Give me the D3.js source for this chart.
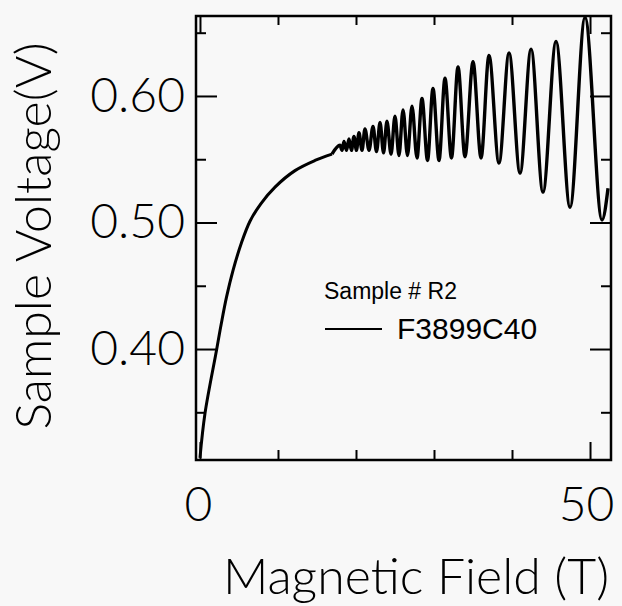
<!DOCTYPE html>
<html>
<head>
<meta charset="utf-8">
<script src="https://cdn.jsdelivr.net/npm/d3@7"></script>
<style>
  body { margin: 0; background: #f8f8f8; }
  svg { display: block; }
  .axis-label, .tick text { font-family: Lato, "Open Sans", sans-serif; font-weight: 300; fill: #000; }
  .legend { font-family: "Liberation Sans", Arial, sans-serif; fill: #000; }
</style>
</head>
<body>
<script>
// magnetic field sweep (T) and sample voltage (V)
// first 13 points: smooth rise; after that alternating peaks / valleys
var fieldT = [
    0.0, 0.64, 2.12, 2.76, 3.40, 4.23, 5.32, 6.41, 7.82, 9.62, 12.18, 14.74, 16.92,
    17.95, 18.21, 18.46, 18.78, 19.10, 19.42, 19.74, 20.06, 20.38, 20.77,
    21.15, 21.67, 22.18, 22.63, 23.08, 23.53, 23.97, 24.49, 25.00, 25.51,
    26.03, 26.60, 27.18, 27.82, 28.46, 29.17, 29.87, 30.64, 31.41, 32.24,
    33.08, 33.97, 35.00, 36.03, 37.05, 38.33, 39.62, 41.03, 42.44, 43.97,
    45.64, 47.44, 49.36, 51.54, 52.31
];
var voltageV = [
    0.314, 0.349, 0.399, 0.421, 0.441, 0.462, 0.484, 0.501, 0.515, 0.528, 0.541, 0.549, 0.554,
    0.561, 0.557, 0.564, 0.557, 0.566, 0.557, 0.568, 0.557, 0.571, 0.557,
    0.574, 0.557, 0.576, 0.556, 0.579, 0.555, 0.580, 0.554, 0.584, 0.553,
    0.589, 0.553, 0.592, 0.551, 0.598, 0.549, 0.606, 0.549, 0.614, 0.551,
    0.623, 0.552, 0.627, 0.551, 0.632, 0.547, 0.634, 0.539, 0.637, 0.524,
    0.643, 0.512, 0.662, 0.502, 0.527
];
var riseCount = 13;

// ticks
var yMajorTicks = [0.40, 0.50, 0.60];
var yMinorTicks = [0.35, 0.45, 0.55, 0.65];
var xMajorTicks = [0, 50];
var xMinorTicks = [10, 20, 30, 40];

var legendTitle = "Sample # R2";
var legendSeries = "F3899C40";

var width = 622,
    height = 606;

// plot frame in pixels
var frame = { left: 196, right: 611, top: 16, bottom: 460 };

var x = d3.scaleLinear().domain([-0.51, 52.69]).range([frame.left, frame.right]);
var y = d3.scaleLinear().domain([0.3123, 0.6632]).range([frame.bottom, frame.top]);

var svg = d3.select("body").append("svg")
    .attr("width", width)
    .attr("height", height);

svg.append("rect")
    .attr("width", width)
    .attr("height", height)
    .attr("fill", "#f8f8f8");

// clip for the curve
svg.append("clipPath").attr("id", "plot")
  .append("rect")
    .attr("x", frame.left).attr("y", frame.top)
    .attr("width", frame.right - frame.left).attr("height", frame.bottom - frame.top);

// tick helper: ticks drawn inward, no domain path
function addAxis(axis, tx, ty) {
    var g = svg.append("g")
        .attr("transform", "translate(" + tx + "," + ty + ")")
        .call(axis);
    g.select(".domain").remove();
    g.selectAll(".tick line").attr("stroke", "#000").attr("stroke-width", 2);
    return g;
}

// left
addAxis(d3.axisLeft(y).tickValues(yMajorTicks).tickSize(-21).tickPadding(11)
    .tickFormat(d3.format(".2f")), frame.left, 0)
    .selectAll(".tick text").style("font-size", "48px");
addAxis(d3.axisLeft(y).tickValues(yMinorTicks).tickSize(-10).tickFormat(""), frame.left, 0);
// right
addAxis(d3.axisRight(y).tickValues(yMajorTicks).tickSize(-21).tickFormat(""), frame.right, 0);
addAxis(d3.axisRight(y).tickValues(yMinorTicks).tickSize(-10).tickFormat(""), frame.right, 0);
// bottom
addAxis(d3.axisBottom(x).tickValues(xMajorTicks).tickSize(-18).tickPadding(27)
    .tickFormat(d3.format("d")), 0, frame.bottom)
    .selectAll(".tick text")
    .style("font-size", "48px")
    .attr("dx", function(d) { return d === 50 ? -4 : -2; });
addAxis(d3.axisBottom(x).tickValues(xMinorTicks).tickSize(-10).tickFormat(""), 0, frame.bottom);
// top
addAxis(d3.axisTop(x).tickValues(xMajorTicks).tickSize(-18).tickFormat(""), 0, frame.top);
addAxis(d3.axisTop(x).tickValues(xMinorTicks).tickSize(-9).tickFormat(""), 0, frame.top);

// frame
svg.append("rect")
    .attr("x", frame.left).attr("y", frame.top)
    .attr("width", frame.right - frame.left).attr("height", frame.bottom - frame.top)
    .attr("fill", "none")
    .attr("stroke", "#000")
    .attr("stroke-width", 2.5);

// the curve: smooth rise, then the oscillations through peaks/valleys
var points = fieldT.map(function(b, i) { return [b, voltageV[i]]; });
var rise = d3.line()
    .x(function(d) { return x(d[0]); })
    .y(function(d) { return y(d[1]); })
    .curve(d3.curveCatmullRom.alpha(0.5));
var wiggle = d3.line()
    .x(function(d) { return x(d[0]); })
    .y(function(d) { return y(d[1]); })
    .curve(d3.curveMonotoneX);

var curve = svg.append("g").attr("clip-path", "url(#plot)");
curve.append("path")
    .datum(points.slice(0, riseCount))
    .attr("d", rise)
    .attr("fill", "none")
    .attr("stroke", "#000")
    .attr("stroke-width", 3);
curve.append("path")
    .datum(points.slice(riseCount - 1))
    .attr("d", wiggle)
    .attr("fill", "none")
    .attr("stroke", "#000")
    .attr("stroke-width", 3.4)
    .attr("stroke-linejoin", "round");

// axis titles
svg.append("text")
    .attr("class", "axis-label")
    .attr("x", 416).attr("y", 594)
    .attr("text-anchor", "middle")
    .style("font-size", "50px")
    .text("Magnetic Field (T)");

svg.append("text")
    .attr("class", "axis-label")
    .attr("transform", "translate(51,236) rotate(-90)")
    .attr("text-anchor", "middle")
    .style("font-size", "50px")
    .text("Sample Voltage(V)");

// legend
svg.append("text")
    .attr("class", "legend")
    .attr("x", 324).attr("y", 299)
    .style("font-size", "23px")
    .text(legendTitle);

svg.append("line")
    .attr("x1", 325).attr("x2", 382)
    .attr("y1", 329).attr("y2", 329)
    .attr("stroke", "#000")
    .attr("stroke-width", 2);

svg.append("text")
    .attr("class", "legend")
    .attr("x", 397).attr("y", 339)
    .style("font-size", "30px")
    .text(legendSeries);
</script>
</body>
</html>
